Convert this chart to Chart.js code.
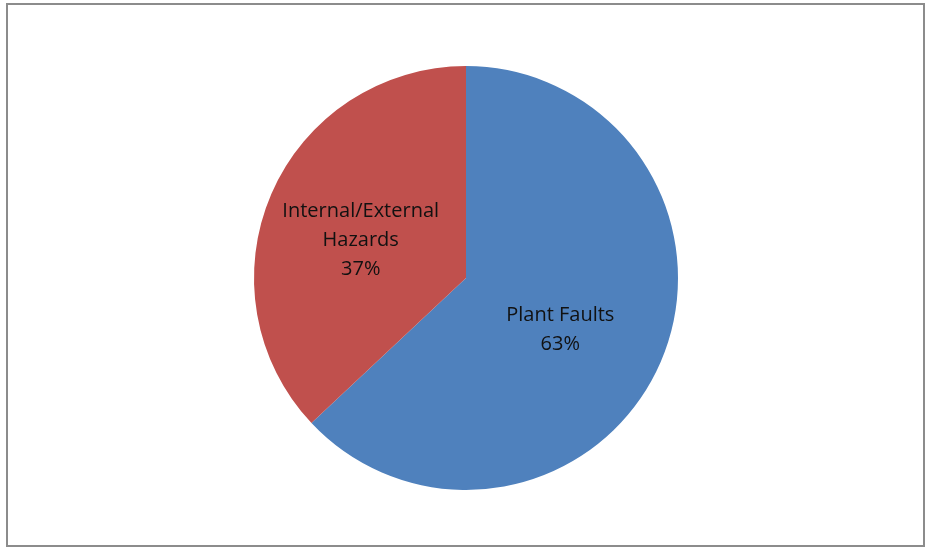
<!DOCTYPE html>
<html>
<head>
<meta charset="utf-8">
<script src="https://cdn.jsdelivr.net/npm/chart.js@4"></script>
<style>
    html, body { margin: 0; padding: 0; background: #fff; }
    #frame { position: absolute; left: 6px; top: 3px; width: 915px; height: 540px; border: 2px solid #8c8c8c; }
    #wrap { position: absolute; left: 0; top: 0; width: 927px; height: 549px; }
</style>
</head>
<body>
<div id="frame"></div>
<div id="wrap"><canvas id="faultPie"></canvas></div>
<script>
const categories = [['Plant Faults'], ['Internal/External', 'Hazards']];
const shares = [63, 37];
const sliceColors = ['#4f81bd', '#c0504d'];

// draws the category name and percent inside each slice
const sliceLabels = {
    id: 'sliceLabels',
    afterDatasetsDraw(chart) {
        const ctx = chart.ctx;
        const meta = chart.getDatasetMeta(0);
        const nudge = [[-3, -5], [-8, -25]];
        ctx.save();
        ctx.font = '20px "Open Sans", sans-serif';
        ctx.fillStyle = '#111';
        ctx.textAlign = 'center';
        ctx.textBaseline = 'middle';
        meta.data.forEach((arc, i) => {
            const pos = arc.tooltipPosition();
            const lines = categories[i].concat([shares[i] + '%']);
            const lh = 29;
            const y0 = pos.y + nudge[i][1];
            lines.forEach((t, k) => ctx.fillText(t, pos.x + nudge[i][0], y0 + k * lh));
        });
        ctx.restore();
    }
};

new Chart(document.getElementById('faultPie').getContext('2d'), {
    type: 'pie',
    data: {
        labels: categories.map((c) => c.join(' ')),
        datasets: [{ data: shares, backgroundColor: sliceColors, borderWidth: 0 }]
    },
    options: {
        responsive: true,
        maintainAspectRatio: false,
        animation: false,
        layout: { padding: { left: 254, right: 249, top: 66, bottom: 59 } },
        plugins: { legend: { display: false }, tooltip: { enabled: false } }
    },
    plugins: [sliceLabels]
});
</script>
</body>
</html>
